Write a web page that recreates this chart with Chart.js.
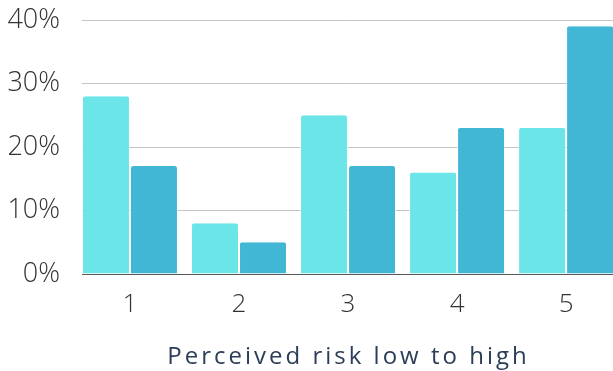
<!DOCTYPE html>
<html>
<head>
<meta charset="utf-8">
<script src="https://cdn.jsdelivr.net/npm/chart.js@4"></script>
<style>
html,body{margin:0;padding:0;background:#fff;}
#wrap{position:relative;width:613px;height:371px;}
</style>
</head>
<body>
<div id="wrap"><canvas id="c"></canvas></div>
<script>
const categories = [1, 2, 3, 4, 5];
const seriesA = [28, 8, 25, 16, 23];
const seriesB = [17, 5, 17, 23, 39];
const yTicks = [0, 10, 20, 30, 40];
const axisTitle = 'Perceived risk low to high';

const titlePlugin = {
  id: 'spacedTitle',
  afterDraw(chart) {
    const ctx = chart.ctx;
    const a = chart.chartArea;
    ctx.save();
    ctx.font = '400 24px "Open Sans"';
    ctx.fillStyle = '#2b3d57';
    ctx.letterSpacing = '3px';
    ctx.textAlign = 'center';
    ctx.textBaseline = 'middle';
    ctx.fillText(axisTitle, (a.left + a.right) / 2 + 1, 357);
    ctx.restore();
  }
};

new Chart(document.getElementById('c'), {
  type: 'bar',
  data: {
    datasets: [
      {
        data: categories.map((c, i) => ({x: c, y: seriesA[i]})),
        backgroundColor: '#6be5e8',
        borderColor: 'rgba(255,255,255,0.6)',
        borderWidth: {left: 1, right: 1, top: 0, bottom: 0},
        borderRadius: {topLeft: 3, topRight: 3},
        borderSkipped: 'bottom',
        barPercentage: 1,
        categoryPercentage: 0.88
      },
      {
        data: categories.map((c, i) => ({x: c, y: seriesB[i]})),
        backgroundColor: '#42b7d5',
        borderColor: 'rgba(255,255,255,0.6)',
        borderWidth: {left: 1, right: 1, top: 0, bottom: 0},
        borderRadius: {topLeft: 3, topRight: 3},
        borderSkipped: 'bottom',
        barPercentage: 1,
        categoryPercentage: 0.88
      }
    ]
  },
  options: {
    responsive: true,
    maintainAspectRatio: false,
    animation: false,
    layout: {padding: {top: 20, right: 0, left: 0, bottom: 0}},
    plugins: {legend: {display: false}, tooltip: {enabled: false}},
    scales: {
      x: {
        type: 'linear',
        offset: false,
        min: 0.56,
        max: 5.43,
        afterBuildTicks: s => { s.ticks = categories.map(v => ({value: v})); },
        afterFit: s => { s.height = 97; s.paddingLeft = 0; s.paddingRight = 0; },
        grid: {display: false, drawTicks: false},
        border: {display: true, color: '#5a5a5a', width: 1},
        ticks: {
          padding: 15,
          color: '#333',
          font: {family: 'Open Sans', size: 26, weight: '300'},
          callback: v => String(v)
        }
      },
      y: {
        min: 0,
        max: 40,
        afterBuildTicks: s => { s.ticks = yTicks.map(v => ({value: v})); },
        afterFit: s => { s.width = 82; s.paddingTop = 0; s.paddingBottom = 0; },
        grid: {color: '#c4c4c4', lineWidth: 1, drawTicks: false},
        border: {display: false},
        ticks: {
          padding: 22,
          color: '#333',
          font: {family: 'Open Sans', size: 27, weight: '300'},
          callback: v => v + '%'
        }
      }
    }
  },
  plugins: [titlePlugin]
});
</script>
</body>
</html>
